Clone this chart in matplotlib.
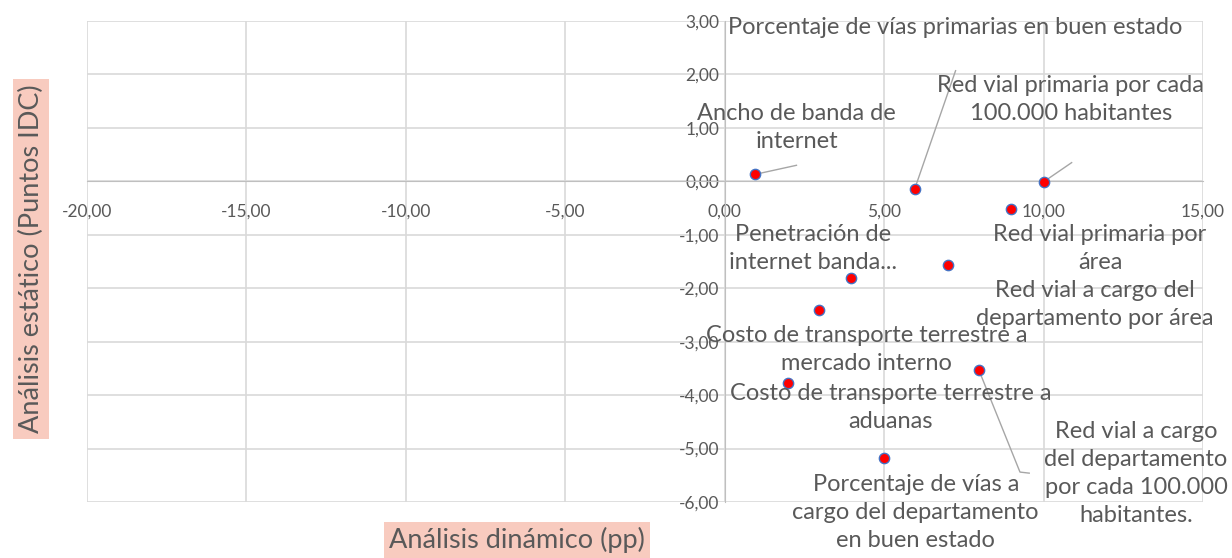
import matplotlib.pyplot as plt
from matplotlib.ticker import FuncFormatter

# datos: analisis dinamico (pp) vs analisis estatico (puntos IDC)
etiquetas = [
    'Ancho de banda de\ninternet',
    'Porcentaje de vías primarias en buen estado',
    'Red vial primaria por cada\n100.000 habitantes',
    'Red vial primaria por\nárea',
    'Red vial a cargo del\ndepartamento por área',
    'Penetración de\ninternet banda...',
    'Costo de transporte terrestre a\nmercado interno',
    'Red vial a cargo\ndel departamento\npor cada 100.000\nhabitantes.',
    'Costo de transporte terrestre a\naduanas',
    'Porcentaje de vías a\ncargo del departamento\nen buen estado',
]
dinamico = [0.95, 5.96, 10.0, 8.97, 7.0, 3.97, 2.97, 7.97, 2.0, 5.0]
estatico = [0.13, -0.14, -0.01, -0.52, -1.56, -1.81, -2.40, -3.53, -3.77, -5.17]

# posiciones de las etiquetas (centro, en unidades de datos)
pos_etiquetas = [
    (2.25, 1.01), (7.23, 2.87), (10.85, 1.53), (11.77, -1.25), (11.61, -2.31),
    (2.77, -1.25), (4.46, -3.15), (12.9, -5.47), (5.21, -4.23), (5.99, -6.20),
]
# lineas guia (extremo junto a la etiqueta)
guias = {0: (2.25, 0.30), 1: (7.24, 2.07), 2: (10.88, 0.35), 7: (9.55, -5.46)}

texto = '#595959'
plt.rcParams['font.family'] = ['Lato', 'DejaVu Sans']

fig = plt.figure(figsize=(12.32, 5.58), dpi=100)
ax = fig.add_axes([87 / 1232, 1 - 502 / 558, (1203 - 87) / 1232, (502 - 21) / 558])

ax.set_xlim(-20, 15)
ax.set_ylim(-6, 3)
ax.set_xticks(range(-20, 16, 5))
ax.set_yticks(range(-6, 4))
coma = FuncFormatter(lambda v, p: f'{v:.2f}'.replace('.', ','))
ax.xaxis.set_major_formatter(coma)
ax.yaxis.set_major_formatter(coma)

ax.grid(True, color='#d9d9d9', linewidth=1.2)
ax.set_axisbelow(True)
for s in ['top', 'right']:
    ax.spines[s].set_visible(False)
ax.spines['left'].set_position(('data', 0))
ax.spines['bottom'].set_position(('data', 0))
ax.spines['left'].set_color('#bfbfbf')
ax.spines['bottom'].set_color('#bfbfbf')
ax.tick_params(length=0, labelsize=12.5, labelcolor=texto)
ax.tick_params(axis='x', pad=16)
ax.tick_params(axis='y', pad=4)

ax.scatter(dinamico, estatico, s=55, color='#ff0000', edgecolors='#4472c4',
           linewidths=1, zorder=5)

for i, (lbl, (tx, ty)) in enumerate(zip(etiquetas, pos_etiquetas)):
    ax.text(tx, ty, lbl, ha='center', va='center', fontsize=17, color=texto,
            linespacing=1.4, zorder=6, clip_on=False)
    if i in guias:
        gx, gy = guias[i]
        if i == 7:
            ax.plot([dinamico[i], 9.26, gx], [estatico[i], -5.44, gy],
                    color='#a6a6a6', linewidth=1, zorder=4, clip_on=False)
        else:
            ax.plot([dinamico[i], gx], [estatico[i], gy], color='#a6a6a6',
                    linewidth=1, zorder=4)

caja = dict(boxstyle='square,pad=0.2', facecolor='#f8cbbf', edgecolor='none')
fig.text(517 / 1232, 1 - 540 / 558, 'Análisis dinámico (pp)', ha='center',
         va='center', fontsize=19.5, color=texto, bbox=caja)
fig.text(31 / 1232, 1 - 259 / 558, 'Análisis estático (Puntos IDC)', ha='center',
         va='center', rotation=90, fontsize=19.5, color=texto, bbox=caja)

fig.savefig('out.png', dpi=100)
